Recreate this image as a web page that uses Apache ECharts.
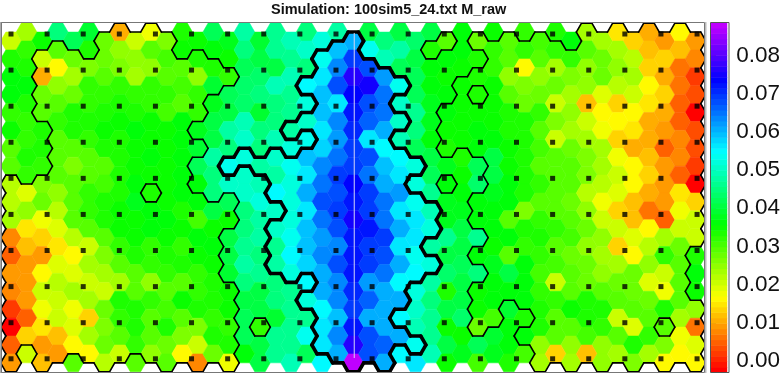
<!DOCTYPE html>
<html>
<head>
<meta charset="utf-8">
<style>html,body{margin:0;padding:0;background:#fff}#c{width:783px;height:374px}</style>
<script src="https://cdn.jsdelivr.net/npm/echarts@6/dist/echarts.min.js"></script>
</head>
<body>
<div id="c"></div>
<script>
const titleText = "Simulation: 100sim5_24.txt M_raw";
const scaleMin = -0.003, scaleMax = 0.0886;
const colorbarTicks = [0, 0.01, 0.02, 0.03, 0.04, 0.05, 0.06, 0.07, 0.08];
const colorSteps = 64;
const sensorColumns = [0,1,2,3,4,5,6,7,8,9,10,11,12,13,14,15,16,17,18,19];
const sensorRows = [0,1,2,3,4,5,6,7,8,9];
const midlinePoints = [[22.06,-0.45],[22.06,17.73]];
// The readings below were taken on a first estimate of the colour key; this is the key's corrected span.
const readingCalibration = 300 / 285;

const row00 = [.020,.022,.033,.042,.040,.037,.026,.010,.019,.017,.025,.032,.033,.040,.036,.045,.037,.044,.046,.043,.049,.045,.058,.039,.042,.038,.041,.038,.027,.034,.026,.033,.028,.030,.029,.031,.034,.022,.022,.014,.012,.010,.009,.015,.008];
const row01 = [.031,.030,.020,.027,.026,.032,.026,.024,.023,.027,.029,.033,.032,.035,.033,.042,.038,.044,.044,.048,.051,.056,.066,.051,.046,.045,.038,.032,.034,.034,.032,.030,.028,.030,.027,.030,.030,.028,.026,.022,.021,.011,.013,.011,.007];
const row02 = [.034,.032,.010,.015,.022,.025,.028,.025,.022,.024,.028,.028,.023,.032,.030,.040,.041,.039,.046,.043,.054,.060,.072,.064,.059,.040,.040,.034,.033,.033,.031,.030,.023,.015,.023,.022,.025,.023,.026,.024,.022,.012,.010,.006,.002];
const row03 = [.034,.034,.026,.024,.026,.030,.030,.030,.030,.030,.030,.029,.030,.037,.040,.041,.042,.047,.044,.052,.056,.064,.070,.071,.061,.051,.040,.035,.035,.033,.032,.033,.028,.025,.026,.026,.022,.023,.018,.021,.019,.015,.012,.006,.003];
const row04 = [.030,.032,.028,.027,.031,.030,.032,.031,.032,.030,.029,.027,.030,.036,.039,.041,.037,.042,.044,.050,.056,.054,.069,.064,.061,.048,.044,.036,.034,.033,.033,.033,.031,.026,.030,.019,.023,.011,.015,.012,.015,.014,.010,.005,-.002];
const row05 = [.033,.030,.031,.030,.032,.032,.033,.033,.034,.033,.033,.035,.036,.039,.045,.047,.043,.042,.045,.048,.053,.060,.067,.063,.058,.048,.042,.036,.033,.033,.034,.033,.032,.031,.028,.025,.022,.019,.017,.015,.014,.010,.008,.005,.003];
const row06 = [.028,.030,.031,.027,.027,.030,.032,.031,.033,.033,.033,.034,.037,.039,.043,.048,.043,.047,.049,.051,.055,.059,.066,.054,.052,.047,.040,.035,.032,.033,.035,.034,.033,.031,.029,.020,.026,.022,.022,.012,.010,.010,.005,.007,.003];
const row07 = [.027,.031,.030,.028,.025,.027,.028,.031,.033,.034,.033,.035,.040,.045,.051,.049,.045,.048,.051,.056,.060,.061,.066,.064,.056,.052,.050,.039,.036,.032,.040,.038,.033,.032,.028,.027,.028,.025,.022,.017,.015,.011,.008,.007,.002];
const row08 = [.021,.030,.025,.027,.027,.027,.029,.032,.035,.033,.033,.034,.035,.043,.048,.048,.047,.045,.050,.054,.062,.065,.070,.062,.057,.054,.049,.040,.035,.033,.041,.039,.034,.032,.030,.027,.027,.025,.021,.019,.016,.013,.009,.005,-.002];
const row09 = [.021,.018,.026,.023,.027,.030,.031,.032,.036,.032,.033,.034,.035,.042,.040,.048,.049,.052,.050,.057,.064,.064,.069,.066,.062,.059,.051,.044,.036,.034,.034,.036,.035,.032,.028,.027,.026,.021,.017,.018,.011,.010,.008,.014,.013];
const row10 = [.022,.023,.017,.021,.027,.030,.032,.033,.033,.034,.035,.032,.029,.038,.033,.042,.045,.048,.050,.053,.062,.066,.071,.065,.062,.054,.053,.046,.036,.036,.034,.034,.027,.025,.030,.028,.028,.023,.019,.012,.011,.006,.004,.017,.020];
const row11 = [.007,.014,.012,.018,.021,.027,.028,.033,.033,.034,.033,.033,.034,.033,.039,.043,.045,.048,.051,.056,.059,.064,.068,.069,.065,.057,.053,.049,.044,.038,.044,.035,.034,.032,.031,.030,.029,.026,.023,.019,.018,.015,.022,.019,.020];
const row12 = [.005,.011,.009,.014,.016,.019,.025,.030,.032,.030,.032,.030,.033,.034,.039,.044,.043,.044,.052,.056,.060,.060,.069,.065,.064,.054,.051,.045,.039,.038,.035,.033,.027,.030,.030,.027,.026,.023,.022,.013,.015,.021,.030,.026,.032];
const row13 = [.009,.008,.016,.018,.018,.022,.022,.028,.028,.030,.030,.031,.030,.033,.037,.045,.044,.045,.050,.055,.058,.064,.068,.066,.062,.058,.052,.049,.041,.040,.043,.036,.039,.035,.029,.029,.027,.026,.024,.022,.026,.024,.019,.027,.034];
const row14 = [.007,.008,.019,.021,.022,.019,.020,.022,.028,.024,.028,.028,.030,.031,.033,.043,.038,.042,.044,.052,.057,.060,.067,.059,.058,.052,.050,.045,.032,.039,.033,.035,.034,.034,.030,.019,.027,.026,.027,.026,.026,.018,.017,.028,.033];
const row15 = [.002,.009,.017,.020,.017,.022,.026,.032,.032,.030,.029,.033,.031,.032,.033,.039,.039,.042,.044,.050,.052,.060,.066,.063,.057,.057,.048,.043,.039,.039,.033,.034,.037,.035,.031,.030,.033,.031,.032,.028,.028,.026,.032,.027,.023];
const row16 = [-.002,.005,.014,.019,.018,.013,.025,.030,.032,.028,.032,.028,.025,.030,.030,.040,.030,.037,.044,.044,.054,.056,.068,.058,.058,.052,.047,.044,.033,.041,.026,.029,.034,.032,.032,.028,.028,.032,.030,.020,.018,.028,.028,.022,.006];
const row17 = [.004,.012,.008,.011,.015,.022,.026,.027,.030,.027,.026,.025,.020,.032,.031,.040,.039,.044,.044,.051,.053,.060,.072,.064,.063,.058,.051,.044,.039,.033,.040,.037,.034,.034,.023,.028,.023,.029,.024,.028,.031,.030,.025,.017,.018];
const row18 = [.009,.020,.011,.009,.028,.016,.021,.019,.028,.023,.027,.015,.007,.026,.017,.035,.038,.044,.046,.040,.052,.058,.084,.064,.058,.052,.053,.046,.033,.036,.029,.036,.031,.029,.022,.012,.022,.011,.023,.022,.025,.022,.016,.016,.016];
const cellRows = [row00,row01,row02,row03,row04,row05,row06,row07,row08,row09,row10,row11,row12,row13,row14,row15,row16,row17,row18];

// For each column: the row spans enclosed by the thin contour.
const thinSpans = [
 [[8,18]],[[9,17]],[[1,4],[8,18]],[[1,18]],[[1,17]],[[2,18]],[[0,18]],[[0,18]],[[0,17]],[[0,8],[10,18]],
 [[0,18]],[[2,18]],[[1,4],[6,6],[9,18]],[[2,3],[10,18]],[[2,2],[9,10],[14,18]],[],[[16,16]],[],[],[],
 [],[],[],[],[],[],[],[[1,1]],[[0,0],[4,6],[8,8]],[[3,6]],
 [[0,0],[2,2],[4,6],[9,10],[12,12],[14,16]],[[1,16]],[[0,14]],[[1,15],[17,17]],[[0,18]],[[1,18]],[[1,18]],[[0,18]],[[0,18]],[[0,18]],
 [[0,18]],[[0,18]],[[0,15],[17,18]],[[0,18]],[[0,11],[15,18]]
];
// For each column: the row spans enclosed by the thick contour.
const thickSpans = [
 [],[],[],[],[],[],[],[],[],[],
 [],[],[],[],[[7,7]],[[7,7]],[[7,7]],[[7,9],[11,13]],[[5,5],[7,13]],[[3,3],[5,5],[7,13],[15,15]],
 [[1,17]],[[1,18]],[[0,18]],[[2,18]],[[2,18]],[[3,3],[5,5],[7,15],[17,17]],[[7,7],[9,13],[17,17]],[[10,11],[13,13]],[],[],
 [],[],[],[],[],[],[],[],[],[],
 [],[],[],[],[]
];

const nRows = cellRows.length, nCols = row00.length;
function inSpans(spans, r){ return spans.some(s => r >= s[0] && r <= s[1]); }
function level(c, r){
  if (c < 0 || c >= nCols || r < 0 || r >= nRows) return 0;
  if (inSpans(thickSpans[c], r)) return 2;
  if (inSpans(thinSpans[c], r)) return 1;
  return 0;
}
function rainbow(v){
  let t = (v - scaleMin) / (scaleMax - scaleMin);
  t = Math.max(0, Math.min(0.9999, t));
  const h = Math.floor(t * colorSteps) / (colorSteps - 1) * 4.75;
  const i = Math.min(4, Math.floor(h)), f = h - i;
  const q = Math.round(255 * (1 - f)), p = Math.round(255 * f);
  const rgb = [[255,p,0],[q,255,0],[0,255,p],[0,q,255],[p,0,255]][i];
  return 'rgb(' + rgb.join(',') + ')';
}
function cellY(c, r){ return c % 2 === 0 ? r : r - 0.5; }

const cellData = [];
for (let r = 0; r < nRows; r++) for (let c = 0; c < nCols; c++)
  cellData.push([c, cellY(c, r), scaleMin + (cellRows[r][c] - scaleMin) * readingCalibration]);

const thinEdgeCells = [], thickEdgeCells = [];
for (let c = 0; c < nCols; c++) for (let r = 0; r < nRows; r++) {
  const L = level(c, r);
  if (L === 1) thinEdgeCells.push([c, cellY(c, r), r]);
  if (L === 2) thickEdgeCells.push([c, cellY(c, r), r]);
}
const sensorData = [];
sensorColumns.forEach(x => sensorRows.forEach(y => sensorData.push([x, y])));

function hexCorners(api){
  const s = api.size([1, 1]);
  return { rad: s[0] * 2 / 3, hh: s[1] / 2 };
}
function renderHex(params, api){
  const p = api.coord([api.value(0), api.value(1)]);
  const { rad, hh } = hexCorners(api);
  const f = rainbow(api.value(2));
  return { type:'polygon', shape:{ points:[
    [p[0]-rad,p[1]],[p[0]-rad/2,p[1]-hh],[p[0]+rad/2,p[1]-hh],
    [p[0]+rad,p[1]],[p[0]+rad/2,p[1]+hh],[p[0]-rad/2,p[1]+hh]] },
    style:{ fill:f, stroke:f, lineWidth:0.5 } };
}
function edgeRenderer(ownLevel, width){
  return function(params, api){
    const c = api.value(0), r = api.value(2);
    const p = api.coord([api.value(0), api.value(1)]);
    const { rad, hh } = hexCorners(api);
    const even = c % 2 === 0;
    const nb = {
      N:[c,r-1], S:[c,r+1],
      NE: even ? [c+1,r] : [c+1,r-1], SE: even ? [c+1,r+1] : [c+1,r],
      NW: even ? [c-1,r] : [c-1,r-1], SW: even ? [c-1,r+1] : [c-1,r]
    };
    const L=[p[0]-rad,p[1]], R=[p[0]+rad,p[1]], UL=[p[0]-rad/2,p[1]-hh], UR=[p[0]+rad/2,p[1]-hh], DL=[p[0]-rad/2,p[1]+hh], DR=[p[0]+rad/2,p[1]+hh];
    const sides = { N:[UL,UR], S:[DL,DR], NE:[UR,R], SE:[R,DR], NW:[L,UL], SW:[L,DL] };
    const children = [];
    Object.keys(sides).forEach(k => {
      if (level(nb[k][0], nb[k][1]) < ownLevel) {
        const a = sides[k][0], b = sides[k][1];
        children.push({ type:'line', shape:{x1:a[0],y1:a[1],x2:b[0],y2:b[1]},
          style:{ stroke:'#000', lineWidth:width, lineCap:'round' } });
      }
    });
    return { type:'group', children };
  };
}
const colorbarLevels = [];
for (let i = 0; i < colorSteps; i++) colorbarLevels.push(scaleMin + (scaleMax - scaleMin) * i / colorSteps);
const stepHeight = (scaleMax - scaleMin) / colorSteps;

const chart = echarts.init(document.getElementById('c'), null, {renderer:'canvas'});
const plot = { left:1.5, top:23, width:703.5, height:349.5 };
chart.setOption({
  animation:false,
  backgroundColor:'#fff',
  title:{ text:titleText, left:266, top:-3, textStyle:{ fontFamily:'Liberation Sans', fontWeight:'bold', fontSize:14.5, color:'#111' } },
  grid:[
    Object.assign({}, plot),
    Object.assign({}, plot),
    { left:711, top:22.5, width:18, height:350 }
  ],
  xAxis:[
    { type:'value', gridIndex:0, min:-0.6105, max:44.602, show:false },
    { type:'value', gridIndex:1, min:-0.263, max:19.22, show:false },
    { type:'value', gridIndex:2, min:0, max:1, show:false }
  ],
  yAxis:[
    { type:'value', gridIndex:0, min:-1.0067, max:18.54, inverse:true, show:false },
    { type:'value', gridIndex:1, min:-0.305, max:9.38, inverse:true, show:false },
    { type:'value', gridIndex:2, min:scaleMin, max:scaleMax, position:'right',
      splitLine:{show:false},
      axisLine:{show:false},
      axisTick:{ show:true, length:5, customValues:colorbarTicks, lineStyle:{color:'#444', width:1} },
      axisLabel:{ show:true, customValues:colorbarTicks, margin:9, padding:[4,0,0,0], formatter:v => v.toFixed(2),
        fontFamily:'Liberation Sans', fontSize:22.5, color:'#111', hideOverlap:false } }
  ],
  series:[
    { type:'custom', xAxisIndex:0, yAxisIndex:0, clip:true, data:cellData, renderItem:renderHex, silent:true, z:1 },
    { type:'custom', xAxisIndex:0, yAxisIndex:0, clip:true, data:thinEdgeCells, renderItem:edgeRenderer(1,1.6), silent:true, z:2 },
    { type:'custom', xAxisIndex:0, yAxisIndex:0, clip:true, data:thickEdgeCells, renderItem:edgeRenderer(2,3.6), silent:true, z:3 },
    { type:'line', xAxisIndex:0, yAxisIndex:0, data:midlinePoints, symbol:'none', lineStyle:{color:'#d4d4f4', width:1}, silent:true, z:4 },
    { type:'scatter', xAxisIndex:1, yAxisIndex:1, data:sensorData, symbol:'rect', symbolSize:5, itemStyle:{color:'#000'}, silent:true, z:5 },
    { type:'custom', xAxisIndex:2, yAxisIndex:2, data:colorbarLevels.map(v=>[0,v]), silent:true, z:1,
      renderItem:(params, api) => {
        const lo = api.value(1);
        const a = api.coord([0, lo]), b = api.coord([1, lo + stepHeight]);
        return { type:'rect', shape:{ x:a[0], y:b[1], width:b[0]-a[0], height:a[1]-b[1]+0.5 },
          style:{ fill:rainbow(lo + stepHeight/2) } };
      } }
  ],
  graphic:[
    { type:'rect', z:50, silent:true, shape:{x:0,y:22,width:2,height:351}, style:{ fill:'#aaa' } },
    { type:'rect', z:50, silent:true, shape:{x:705,y:22,width:1.5,height:351}, style:{ fill:'#bbb' } },
    { type:'rect', z:51, silent:true, shape:{x:1.5,y:22.5,width:703,height:350}, style:{ fill:'none', stroke:'#777', lineWidth:1 } },
    { type:'rect', z:51, silent:true, shape:{x:710.5,y:22.5,width:18.5,height:350}, style:{ fill:'none', stroke:'#555', lineWidth:1 } }
  ]
});
</script>
</body>
</html>
